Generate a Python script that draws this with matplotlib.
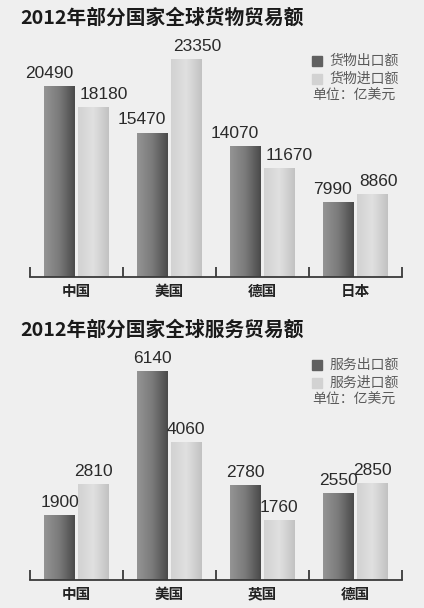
import matplotlib.pyplot as plt
import numpy as np

plt.rcParams['font.family'] = ['Noto Sans CJK SC', 'DejaVu Sans']

goods_countries = ['中国', '美国', '德国', '日本']
goods_export = [20490, 15470, 14070, 7990]
goods_import = [18180, 23350, 11670, 8860]

service_countries = ['中国', '美国', '英国', '德国']
service_export = [1900, 6140, 2780, 2550]
service_import = [2810, 4060, 1760, 2850]

BG = '#efefef'
W, H = 424, 608


def grad_bars(ax, bars, colors):
    cmap = plt.matplotlib.colors.LinearSegmentedColormap.from_list('g', colors)
    g = np.linspace(0, 1, 64).reshape(1, -1)
    for b in bars:
        x0, y0 = b.get_x(), b.get_y()
        im = ax.imshow(g, cmap=cmap, aspect='auto', interpolation='bicubic',
                       extent=[x0, x0 + b.get_width(), y0, y0 + b.get_height()], zorder=2)
        im.set_clip_path(b)
        b.set_facecolor('none')


def panel(fig, top_px, base_px, ymax, title, title_y, countries, exp, imp, leg, leg_y, side_align):
    ax = fig.add_axes([30 / W, 1 - base_px / H, 372 / W, (base_px - top_px) / H])
    ax.set_facecolor(BG)
    x = np.arange(len(countries))
    w, d = 0.33, 0.18
    b1 = ax.bar(x - d, exp, w, color='#707070', zorder=2)
    b2 = ax.bar(x + d, imp, w, color='#d0d0d0', zorder=2)
    grad_bars(ax, b1, ['#949494', '#7a7a7a', '#4a4a4a'])
    grad_bars(ax, b2, ['#d2d2d2', '#e0e0e0', '#c2c2c2'])
    off = ymax * 0.022
    num_font = dict(fontsize=12.5, color='#2a2a2a', family=['Liberation Sans', 'DejaVu Sans'])
    for xi, v in zip(x, exp):
        if side_align:
            ax.text(xi - d + w / 2 - 0.02, v + off, str(v), ha='right', va='bottom', **num_font)
        else:
            ax.text(xi - d, v + off, str(v), ha='center', va='bottom', **num_font)
    for xi, v in zip(x, imp):
        if side_align:
            ax.text(xi + d - w / 2 + 0.02, v + off, str(v), ha='left', va='bottom', **num_font)
        else:
            ax.text(xi + d, v + off, str(v), ha='center', va='bottom', **num_font)
    ax.set_xlim(-0.5, len(countries) - 0.5)
    ax.set_ylim(0, ymax)
    for s in ['top', 'left', 'right']:
        ax.spines[s].set_visible(False)
    ax.spines['bottom'].set_color('#3a3a3a')
    ax.spines['bottom'].set_linewidth(1.3)
    ax.set_yticks([])
    ax.set_xticks(np.arange(-0.5, len(countries)))
    ax.set_xticklabels([])
    ax.tick_params(axis='x', direction='in', length=7, width=1.3, color='#3a3a3a')
    ax.set_xticks(x, minor=True)
    ax.set_xticklabels(countries, minor=True, fontsize=10.5, fontweight='bold', color='#222222')
    ax.tick_params(axis='x', which='minor', length=0, pad=4)

    fig.text(20 / W, 1 - title_y / H, title, fontsize=14.2, fontweight='bold', color='#1a1a1a',
             va='center', ha='left')
    for i, (lab, c) in enumerate(zip(leg, ['#606060', '#d2d2d2'])):
        y = 1 - (leg_y + i * 18) / H
        fig.patches.append(plt.Rectangle((312 / W, y - 5 / H), 10 / W, 10 / H, color=c,
                                         transform=fig.transFigure, figure=fig))
        fig.text(329 / W, y, lab, fontsize=10, color='#5a5a5a', va='center', ha='left')
    fig.text(312 / W, 1 - (leg_y + 35) / H, '单位：亿美元', fontsize=10, color='#5a5a5a',
             va='center', ha='left')


fig = plt.figure(figsize=(W / 100, H / 100), dpi=100)
fig.patch.set_facecolor(BG)

panel(fig, 40, 277, 25400, '2012年部分国家全球货物贸易额', 18,
      goods_countries, goods_export, goods_import, ['货物出口额', '货物进口额'], 61, True)
panel(fig, 345, 580, 6910, '2012年部分国家全球服务贸易额', 330,
      service_countries, service_export, service_import, ['服务出口额', '服务进口额'], 365, False)

fig.savefig('out.png', dpi=100, facecolor=BG)
